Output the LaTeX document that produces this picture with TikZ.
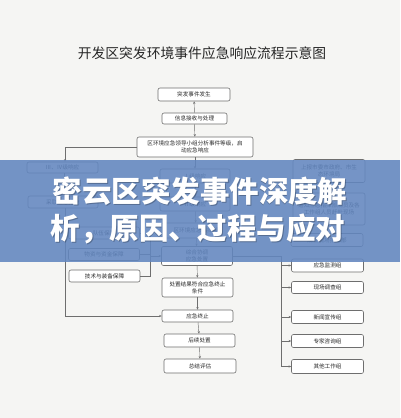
\documentclass[tikz,border=0pt]{standalone}
\usepackage{fontspec}
\newfontfamily\cjk{Noto Sans CJK SC}
\usetikzlibrary{arrows.meta}
\definecolor{bg}{RGB}{245,245,243}
\definecolor{ln}{RGB}{110,110,110}
\definecolor{tx}{RGB}{40,40,40}
\definecolor{banner}{RGB}{98,134,191}
\tikzset{
  fbox/.style={draw=ln, rounded corners=2pt, line width=0.6pt, fill=white, text=tx,
    font=\cjk\fontsize{5.6}{6.8}\selectfont, inner sep=1pt, align=center},
  conn/.style={draw=ln, line width=0.45pt},
  arr/.style={conn, -{Stealth[length=2.6pt,width=2.2pt]}},
  bigtext/.style={font=\cjk\bfseries\fontsize{29.5}{34}\selectfont, text=white, inner sep=0pt, anchor=center},
  shadowtext/.style={font=\cjk\bfseries\fontsize{29.5}{34}\selectfont, text=black, opacity=0.25, inner sep=0pt, anchor=center}
}
\begin{document}
\begin{tikzpicture}[x=1pt,y=-1pt]
\fill[bg] (0,0) rectangle (400,418);
\useasboundingbox (0,0) rectangle (400,418);

% title
\node[font=\cjk\fontsize{13.8}{15}\selectfont, text=black!85, inner sep=0pt] (title) at (202,53) {开发区突发环境事件应急响应流程示意图};

% top chain
\node[fbox, minimum width=72, minimum height=13] (b1) at (194,94.5) {突发事件发生};
\node[fbox, minimum width=65, minimum height=11] (b2) at (194.5,118.5) {信息接收与处理};
\node[fbox, minimum width=116, minimum height=20] (b3) at (195,147) {区环境应急领导小组分析事件等级，启\\动应急响应};

% left branch
\node[fbox, minimum width=71, minimum height=11] (l1) at (62.5,167.5) {Ⅲ、Ⅳ级响应};
\node[fbox, minimum width=70, minimum height=12] (l2) at (63,202) {采取应急措施};

% support boxes
\node[fbox, minimum width=71, minimum height=12] (s1) at (104,233) {队伍保障};
\node[fbox, minimum width=71, minimum height=12] (s2) at (104,254.5) {物资与资金保障};
\node[fbox, minimum width=71, minimum height=12] (s3) at (104.5,276) {技术与装备保障};

% center chain
\node[fbox, minimum width=70, minimum height=14] (c1) at (195,176) {Ⅰ级响应};
\node[fbox, minimum width=70, minimum height=14] (c2) at (195,204) {Ⅱ级响应};
\node[fbox, minimum width=70, minimum height=15] (c3) at (196,230.5) {区环境应急指挥部};
\node[fbox, minimum width=71, minimum height=19] (c4) at (197,256) {综合协调\\应急处置};
\node[fbox, minimum width=71, minimum height=19] (c5) at (197.5,287.5) {处置结果符合应急终止\\条件};
\node[fbox, minimum width=71, minimum height=12] (c6) at (197.5,316) {应急终止};
\node[fbox, minimum width=71, minimum height=13] (c7) at (199.5,340.5) {后续处置};
\node[fbox, minimum width=72, minimum height=14] (c8) at (200,366) {总结评估};

% right column
\node[fbox, minimum width=72, minimum height=23] (r1) at (329,171) {上报市委市政府、市生\\态环境局};
\node[fbox, minimum width=72, minimum height=32] (r2) at (329,209) {通知应急指挥部成员及各\\工作组人员赶赴现场};
\node[fbox, minimum width=72, minimum height=13] (r3) at (327,240) {成立现场指挥部};
\node[fbox, minimum width=72, minimum height=13] (g1) at (327.5,265.5) {应急监测组};
\node[fbox, minimum width=72, minimum height=12] (g2) at (327.5,287.5) {现场调查组};
\node[fbox, minimum width=72, minimum height=13] (g3) at (327.5,317) {新闻宣传组};
\node[fbox, minimum width=72, minimum height=13] (g4) at (327.5,341) {专家咨询组};
\node[fbox, minimum width=72, minimum height=14] (g5) at (327.5,366.5) {其他工作组};

% connectors
\draw[arr] (b2) -- (b1);
\draw[arr] (b2) -- (b3);
\draw[arr] (b3) -- (c1);
\draw[arr] (c1) -- (c2);
\draw[arr] (c2) -- (c3);
\draw[arr] (c3) -- (c4);
\draw[arr] (c4) -- (c5);
\draw[arr] (c5) -- (c6);
\draw[arr] (c6) -- (c7);
\draw[arr] (c7) -- (c8);

\draw[arr] (b3.west) -| ([xshift=2.5pt]l1.north);
\draw[arr] ([xshift=2pt]l1.south) -- ([xshift=1.5pt]l2.north);
\draw[arr] ([xshift=2pt]l2.south) |- (c6.west);

\coordinate (br) at (150,256);
\draw[conn] (s1.east) -| (br);
\draw[conn] (s3.east) -| (br);
\draw[conn] (s2.east) -- (s2.east -| br);
\draw[arr] (br) -- (c4.west);

\coordinate (bus) at (281,256);
\coordinate (busend) at (281,366.5);
\draw[conn] (c4.east) -- (bus) -- (busend);
\draw[arr] (g1.west -| bus) -- (g1.west);
\draw[arr] (g2.west -| bus) -- (g2.west);
\draw[arr] (g3.west -| bus) -- (g3.west);
\draw[arr] (g4.west -| bus) -- (g4.west);
\draw[arr] (busend) -- (g5.west);

% banner
\fill[banner, opacity=0.88] (0,160) rectangle (400,262);
\node[shadowtext] (t1s) at (201,192) {密云区突发事件深度解};
\node[shadowtext] (t2s) at (199,230) {析，原因、过程与应对};
\node[bigtext] (t1) at (200,191) {密云区突发事件深度解};
\node[bigtext] (t2) at (198,229) {析，原因、过程与应对};
\end{tikzpicture}
\end{document}
